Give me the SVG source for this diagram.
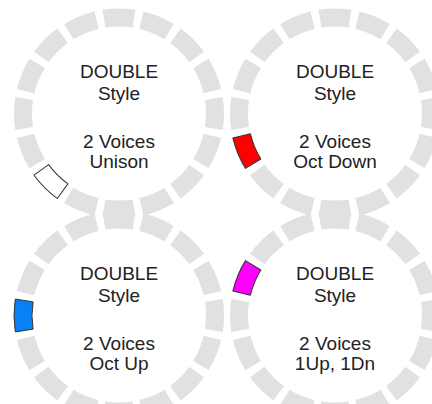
<svg xmlns="http://www.w3.org/2000/svg" xmlns:xlink="http://www.w3.org/1999/xlink" width="432" height="404" viewBox="0 0 432 404">
<style>
.seg{fill:#e1e1e1;stroke:none}
.hl{stroke:#333333;stroke-width:1;stroke-linejoin:round}
.t{font-family:"Liberation Sans",Arial,sans-serif;font-size:19px;fill:#222222;text-anchor:middle}
</style>
<defs>
<path id="s" d="M -16.43 -103.71 A 105 105 0 0 1 16.43 -103.71 L 13.61 -85.93 A 87 87 0 0 0 -13.61 -85.93 Z"/>
<g id="ring">
<use xlink:href="#s" href="#s" class="seg" transform="rotate(0)"/>
<use xlink:href="#s" href="#s" class="seg" transform="rotate(22.5)"/>
<use xlink:href="#s" href="#s" class="seg" transform="rotate(45)"/>
<use xlink:href="#s" href="#s" class="seg" transform="rotate(67.5)"/>
<use xlink:href="#s" href="#s" class="seg" transform="rotate(90)"/>
<use xlink:href="#s" href="#s" class="seg" transform="rotate(112.5)"/>
<use xlink:href="#s" href="#s" class="seg" transform="rotate(135)"/>
<use xlink:href="#s" href="#s" class="seg" transform="rotate(157.5)"/>
<use xlink:href="#s" href="#s" class="seg" transform="rotate(180)"/>
<use xlink:href="#s" href="#s" class="seg" transform="rotate(202.5)"/>
<use xlink:href="#s" href="#s" class="seg" transform="rotate(225)"/>
<use xlink:href="#s" href="#s" class="seg" transform="rotate(247.5)"/>
<use xlink:href="#s" href="#s" class="seg" transform="rotate(270)"/>
<use xlink:href="#s" href="#s" class="seg" transform="rotate(292.5)"/>
<use xlink:href="#s" href="#s" class="seg" transform="rotate(315)"/>
<use xlink:href="#s" href="#s" class="seg" transform="rotate(337.5)"/>
</g>
</defs>
<rect width="432" height="404" fill="#ffffff"/>
<g id="unison" transform="translate(119,113.5)">
<use xlink:href="#ring" href="#ring"/>
<use xlink:href="#s" href="#s" class="hl" fill="#ffffff" transform="rotate(225)"/>
<text class="t" x="0" y="-35.5">DOUBLE</text>
<text class="t" x="0" y="-14">Style</text>
<text class="t" x="0" y="34">2 Voices</text>
<text class="t" x="0" y="54">Unison</text>
</g>
<g id="octdown" transform="translate(335,113.5)">
<use xlink:href="#ring" href="#ring"/>
<use xlink:href="#s" href="#s" class="hl" fill="#ff0000" transform="rotate(247.5)"/>
<text class="t" x="0" y="-35.5">DOUBLE</text>
<text class="t" x="0" y="-14">Style</text>
<text class="t" x="0" y="34">2 Voices</text>
<text class="t" x="0" y="54">Oct Down</text>
</g>
<g id="octup" transform="translate(119,315.5)">
<use xlink:href="#ring" href="#ring"/>
<use xlink:href="#s" href="#s" class="hl" fill="#0a80f5" transform="rotate(270)"/>
<text class="t" x="0" y="-35.5">DOUBLE</text>
<text class="t" x="0" y="-14">Style</text>
<text class="t" x="0" y="34">2 Voices</text>
<text class="t" x="0" y="54">Oct Up</text>
</g>
<g id="updn" transform="translate(335,315.5)">
<use xlink:href="#ring" href="#ring"/>
<use xlink:href="#s" href="#s" class="hl" fill="#ff00ff" transform="rotate(292.5)"/>
<text class="t" x="0" y="-35.5">DOUBLE</text>
<text class="t" x="0" y="-14">Style</text>
<text class="t" x="0" y="34">2 Voices</text>
<text class="t" x="0" y="54">1Up, 1Dn</text>
</g>
<g id="connectors"/>
</svg>
